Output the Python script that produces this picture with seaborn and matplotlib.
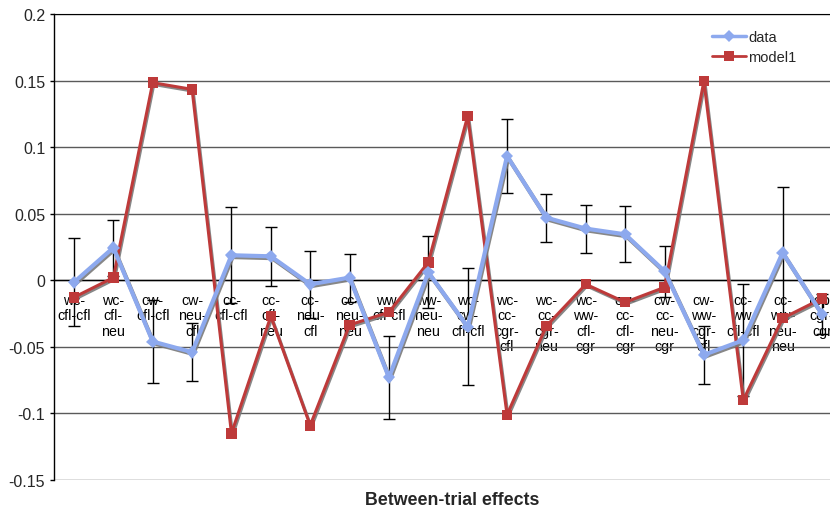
import numpy as np
import pandas as pd
import matplotlib
matplotlib.use("Agg")
import matplotlib.pyplot as plt
import seaborn as sns
from matplotlib import patheffects as pe
from matplotlib.ticker import FuncFormatter
from matplotlib.lines import Line2D

# ---------------- data ----------------
conditions = ["wc-cfl-cfl", "wc-cfl-neu", "cw-cfl-cfl", "cw-neu-cfl", "cc-cfl-cfl",
              "cc-cfl-neu", "cc-neu-cfl", "cc-neu-neu", "ww-cfl-cfl", "ww-neu-neu",
              "wc-cw-cfl-cfl", "wc-cc-cgr-cfl", "wc-cc-cgr-neu", "wc-ww-cfl-cgr",
              "cw-cc-cfl-cgr", "cw-cc-neu-cgr", "cw-ww-cgr-cfl", "cc-ww-cfl-cfl",
              "cc-ww-neu-neu", "rep-cgr-cgr"]
tick_labels = ["wc-\ncfl-cfl", "wc-\ncfl-\nneu", "cw-\ncfl-cfl", "cw-\nneu-\ncfl",
               "cc-\ncfl-cfl", "cc-\ncfl-\nneu", "cc-\nneu-\ncfl", "cc-\nneu-\nneu",
               "ww-\ncfl-cfl", "ww-\nneu-\nneu", "wc-\ncw-\ncfl-cfl",
               "wc-\ncc-\ncgr-\ncfl", "wc-\ncc-\ncgr-\nneu", "wc-\nww-\ncfl-\ncgr",
               "cw-\ncc-\ncfl-\ncgr", "cw-\ncc-\nneu-\ncgr", "cw-\nww-\ncgr-\ncfl",
               "cc-\nww-\ncfl-cfl", "cc-\nww-\nneu-\nneu", "rep-\ncgr-\ncgr"]
data_vals = [-0.0015, 0.0245, -0.046, -0.054, 0.0188, 0.018, -0.003, 0.002, -0.073, 0.006,
             -0.035, 0.0933, 0.047, 0.0388, 0.0345, 0.0068, -0.056, -0.045, 0.0208, -0.0255]
data_err = [0.033, 0.021, 0.031, 0.022, 0.036, 0.022, 0.025, 0.018, 0.031, 0.027,
            0.044, 0.0275, 0.018, 0.018, 0.021, 0.019, 0.022, 0.042, 0.049, 0.015]
model1_vals = [-0.0128, 0.002, 0.1484, 0.1434, -0.115, -0.027, -0.109, -0.0335, -0.024, 0.0135,
               0.1233, -0.101, -0.0343, -0.003, -0.0165, -0.0053, 0.1496, -0.090, -0.0285, -0.0137]
y_ticks = [-0.15, -0.1, -0.05, 0, 0.05, 0.1, 0.15, 0.2]
x_title = "Between-trial effects"

blue = "#8DA9EE"
red = "#BE3A3A"

# ---------------- style ----------------
sns.set_style("white")
plt.rcParams["font.family"] = ["Liberation Sans", "DejaVu Sans"]
plt.rcParams["axes.unicode_minus"] = False

W, H = 830, 510
fig = plt.figure(figsize=(W / 100, H / 100), dpi=100)
left_px, right_px, top_px, bot_px = 54.3, 841.7, 15, 481
ax = fig.add_axes([left_px / W, 1 - bot_px / H, (right_px - left_px) / W, (bot_px - top_px) / H])

n = len(conditions)
pos = np.arange(n)
df = pd.DataFrame({"pos": pos, "data": data_vals, "model1": model1_vals, "err": data_err})

shadow = [pe.SimpleLineShadow(offset=(0.8, -1.3), shadow_color="#7a7a7a", alpha=0.9), pe.Normal()]

ax.errorbar(df["pos"], df["data"], yerr=df["err"], fmt="none", ecolor="black",
            elinewidth=1.0, capsize=4, capthick=1.0, zorder=2)

sns.lineplot(data=df, x="pos", y="model1", ax=ax, color=red, marker="s", markersize=7.5,
             markeredgewidth=0, linewidth=2.2, sort=False, zorder=3, path_effects=shadow)
sns.lineplot(data=df, x="pos", y="data", ax=ax, color=blue, marker="D", markersize=6.5,
             markeredgewidth=0, linewidth=3.0, sort=False, zorder=4, path_effects=shadow)

# ---------------- axes ----------------
ax.set_xlim(-0.5, n - 0.5)
ax.set_ylim(min(y_ticks), max(y_ticks))
ax.set_yticks(y_ticks)
ax.yaxis.set_major_formatter(FuncFormatter(lambda v, p: "0" if abs(v) < 1e-12 else "%g" % v))
ax.grid(axis="y", color="#5a5a5a", linewidth=1.0)
ax.grid(axis="x", visible=False)
ax.set_axisbelow(True)

ax.spines["right"].set_visible(False)
ax.spines["top"].set_visible(True)
ax.spines["top"].set_color("black")
ax.spines["left"].set_color("black")
ax.spines["left"].set_linewidth(1.0)
ax.spines["bottom"].set_position(("data", 0))
ax.spines["bottom"].set_color("black")
ax.spines["bottom"].set_linewidth(1.0)

ax.set_xticks(pos)
ax.set_xticklabels(tick_labels, fontsize=10.3, linespacing=1.13)
ax.set_xticks(np.arange(n + 1) - 0.5, minor=True)
ax.tick_params(axis="x", which="major", length=0, pad=9, colors="black")
ax.tick_params(axis="x", which="minor", length=4, width=1, direction="out", color="black")
ax.tick_params(axis="y", which="major", length=3, width=1, pad=3.6, labelsize=11.5,
               direction="out", color="black", left=True)
ax.set_xlabel("")
ax.set_ylabel("")

fig.text(452 / W, 1 - 505 / H, x_title, ha="center", va="baseline",
         fontsize=12.8, fontweight="bold")

handles = [Line2D([], [], color=blue, marker="D", markersize=6.5, linewidth=2.5, markeredgewidth=0),
           Line2D([], [], color=red, marker="s", markersize=7.5, linewidth=2.0, markeredgewidth=0)]
fig.legend(handles, ["data", "model1"], loc="upper left",
           bbox_to_anchor=(712 / W, 1 - 31 / H), frameon=False, fontsize=10.5,
           handlelength=2.3, handletextpad=0.2, labelspacing=0.42, borderpad=0,
           borderaxespad=0)

fig.savefig("out.png", dpi=100)
